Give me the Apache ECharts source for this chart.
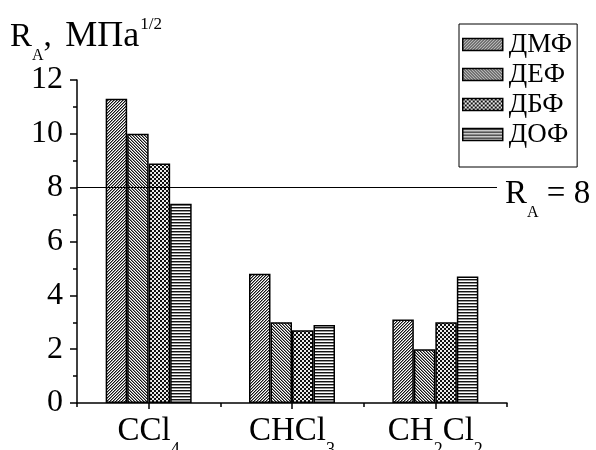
<!DOCTYPE html>
<html>
<head>
<meta charset="utf-8">
<script src="https://cdn.jsdelivr.net/npm/echarts@6/dist/echarts.min.js"></script>
<style>
  html, body { margin: 0; padding: 0; background: #fff; }
  #chart { width: 596px; height: 450px; }
</style>
</head>
<body>
<div id="chart"></div>
<script>
// Solvents on the category axis (digits are rendered as subscripts)
const categories = ['CCl4', 'CHCl3', 'CH2Cl2'];
// R_A values, MPa^1/2, per solvent
const seriesNames = ['ДМФ', 'ДЕФ', 'ДБФ', 'ДОФ'];
const dmf = [11.3, 4.8, 3.1];
const def = [10.0, 3.0, 2.0];
const dbf = [8.9, 2.7, 3.0];
const dof = [7.4, 2.9, 4.7];
// Value axis range and reference level
const yMin = 0, yMax = 12, yStep = 2;
const threshold = 8;

const FONT = 'Liberation Serif';
const W = 596;
const GRID = { left: 77, right: 89, top: 80, bottom: 47 };
// the reference line stops a little short of the axis end
const LINE_END = W - GRID.right - 10;

// Build a small repeating bitmap used as a hatch fill
function hatch(size, shade) {
  const c = document.createElement('canvas');
  c.width = size; c.height = size;
  const ctx = c.getContext('2d');
  const img = ctx.createImageData(size, size);
  for (let y = 0; y < size; y++) {
    for (let x = 0; x < size; x++) {
      const v = shade(x, y);
      const i = (y * size + x) * 4;
      img.data[i] = img.data[i + 1] = img.data[i + 2] = v;
      img.data[i + 3] = 255;
    }
  }
  ctx.putImageData(img, 0, 0);
  return { image: c, repeat: 'repeat' };
}
const lv = [20, 140, 255];
const fills = [
  hatch(3, (x, y) => lv[(x + y) % 3]),                         // forward diagonal
  hatch(3, (x, y) => lv[((x - y) % 3 + 3) % 3]),               // backward diagonal
  hatch(4, (x, y) => (((x >> 1) + (y >> 1)) % 2 ? 235 : 15)),  // checker
  hatch(3, (x, y) => [20, 150, 255][y % 3])                    // horizontal lines
];

const values = [dmf, def, dbf, dof];

function subDigits(s) {
  return s.replace(/(\d)/g, '{sub|$1}');
}

const series = seriesNames.map((name, i) => {
  const s = {
    name: name,
    type: 'bar',
    xAxisIndex: 0,
    data: values[i],
    barGap: '0%',
    barCategoryGap: '40%',
    itemStyle: { color: fills[i], borderColor: '#000', borderWidth: 1.5 },
    emphasis: { disabled: true },
    animation: false
  };
  if (i === 0) {
    s.markLine = {
      silent: true,
      symbol: 'none',
      animation: false,
      lineStyle: { color: '#000', width: 1.2, type: 'solid' },
      label: {
        show: true,
        position: 'end',
        distance: 8,
        formatter: 'R{sub|A} = ' + threshold,
        fontFamily: FONT,
        fontSize: 33,
        color: '#000',
        lineHeight: 52,
        padding: [14, 0, 0, 0],
        rich: {
          sub: { fontFamily: FONT, fontSize: 16, lineHeight: 2, verticalAlign: 'bottom', color: '#000' }
        }
      },
      data: [[
        { yAxis: threshold, x: GRID.left },
        { yAxis: threshold, x: LINE_END }
      ]]
    };
  }
  return s;
});

const chart = echarts.init(document.getElementById('chart'), null, { renderer: 'canvas' });
chart.setOption({
  backgroundColor: '#fff',
  animation: false,
  title: {
    text: 'R{sub|A},{gap| }{big|МПа}{sup|1/2}',
    left: 10,
    top: 10,
    padding: 0,
    textStyle: {
      fontFamily: FONT,
      fontSize: 33,
      fontWeight: 'normal',
      color: '#000',
      lineHeight: 54,
      rich: {
        gap: { fontFamily: FONT, fontSize: 54, lineHeight: 54 },
        big: { fontFamily: FONT, fontSize: 36, lineHeight: 54, color: '#000' },
        sub: { fontFamily: FONT, fontSize: 16, lineHeight: 2, verticalAlign: 'bottom', color: '#000' },
        sup: { fontFamily: FONT, fontSize: 17, lineHeight: 14, verticalAlign: 'top', padding: [6, 0, 0, 1], color: '#000' }
      }
    }
  },
  legend: {
    orient: 'vertical',
    left: 459,
    top: 24,
    padding: [7, 5, 19, 3],
    itemGap: 3,
    itemWidth: 40,
    itemHeight: 12,
    icon: 'rect',
    borderColor: '#000',
    borderWidth: 1,
    borderRadius: 0,
    selectedMode: false,
    itemStyle: { borderColor: '#000', borderWidth: 1.5 },
    textStyle: { fontFamily: FONT, fontSize: 27, color: '#000', lineHeight: 26, padding: [0, 0, 0, 1] },
    data: seriesNames
  },
  grid: {
    left: GRID.left, right: GRID.right, top: GRID.top, bottom: GRID.bottom,
    containLabel: false,
    outerBoundsMode: 'none'
  },
  xAxis: [
    {
      type: 'category',
      data: categories,
      position: 'bottom',
      axisLine: { show: true, lineStyle: { color: '#000', width: 1.5 } },
      axisTick: { show: true, alignWithLabel: true, length: 6, lineStyle: { color: '#000', width: 1.5 } },
      axisLabel: {
        interval: 0,
        hideOverlap: false,
        margin: 0,
        fontFamily: FONT,
        fontSize: 33,
        color: '#000',
        lineHeight: 56,
        verticalAlign: 'top',
        formatter: subDigits,
        rich: {
          sub: { fontFamily: FONT, fontSize: 18, lineHeight: 2, verticalAlign: 'bottom', color: '#000' }
        }
      },
      splitLine: { show: false }
    },
    {
      type: 'category',
      data: categories,
      position: 'bottom',
      axisLine: { show: false },
      axisTick: { show: true, alignWithLabel: false, length: 4, lineStyle: { color: '#000', width: 1.5 } },
      axisLabel: { show: false },
      splitLine: { show: false }
    }
  ],
  yAxis: {
    type: 'value',
    min: yMin,
    max: yMax,
    interval: yStep,
    axisLine: { show: true, lineStyle: { color: '#000', width: 1.5 } },
    axisTick: { show: true, length: 7, lineStyle: { color: '#000', width: 1.5 } },
    minorTick: { show: true, splitNumber: 2, length: 4, lineStyle: { color: '#000', width: 1.5 } },
    axisLabel: { margin: 14, fontFamily: FONT, fontSize: 32, color: '#000' },
    splitLine: { show: false }
  },
  series: series
});
</script>
</body>
</html>
